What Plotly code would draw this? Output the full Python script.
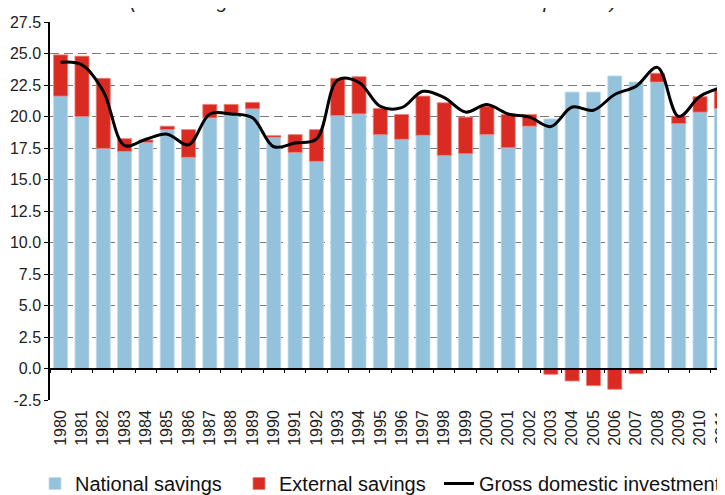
import plotly.graph_objects as go

years = list(range(1980, 2012))
national_savings = [21.62, 20.00, 17.47, 17.23, 17.95, 18.96, 16.76, 19.89, 20.10, 20.61,
                    18.35, 17.15, 16.44, 20.08, 20.21, 18.56, 18.19, 18.51, 16.91, 17.05,
                    18.57, 17.53, 19.23, 19.81, 21.94, 21.94, 23.22, 22.74, 22.74, 19.44,
                    20.35, 20.64]
external_savings = [3.27, 4.79, 5.56, 1.01, 0.19, 0.27, 2.20, 1.07, 0.86, 0.51,
                    0.13, 1.41, 2.52, 2.95, 2.95, 2.08, 1.97, 3.11, 4.18, 2.90,
                    2.25, 2.63, 0.93, -0.46, -0.99, -1.36, -1.65, -0.41, 0.69, 0.59,
                    1.22, 1.43]
gross_investment = [24.3, 24.1, 22.0, 17.7, 18.2, 18.6, 17.75, 20.2, 20.2, 19.9,
                    17.6, 17.9, 18.2, 22.9, 22.7, 20.8, 20.7, 22.0, 21.5, 20.35,
                    20.95, 20.2, 19.95, 19.2, 20.75, 20.5, 21.75, 22.4, 23.9, 20.0,
                    21.6, 22.3]
y_ticks = [-2.5 + 2.5 * i for i in range(13)]
title_text = "(Percentage of the Gross Domestic Product in percent)"

BLUE = "#94c2dd"
RED = "#d92b21"
FONT = "Liberation Sans, Arial, sans-serif"

W, H = 725, 495
ML, MR, MT, MB = 42, 1, 14, 103
PW, PH = W - ML - MR, H - MT - MB
x_range = [years[0] - 0.5, years[-1] + 0.5]

fig = go.Figure()
fig.add_trace(go.Bar(
    x=years, y=national_savings, name="National savings", legend="legend",
    marker=dict(color=BLUE, line=dict(color="#c4dcea", width=0.8)),
))
fig.add_trace(go.Bar(
    x=years, y=external_savings, name="External savings", legend="legend2",
    marker=dict(color=RED, line=dict(color="#e8817b", width=0.8)),
))
fig.add_trace(go.Scatter(
    x=years, y=gross_investment, name="Gross domestic investment", legend="legend3",
    mode="lines", line=dict(color="black", width=3, shape="spline", smoothing=1.0),
    xaxis="x2", yaxis="y",
))

def legend_at(px):
    return dict(
        orientation="h", xref="container", x=px / W, xanchor="left",
        yref="container", y=1 - 456 / H, yanchor="top",
        font=dict(family=FONT, size=20, color="#111"),
        itemwidth=30, bgcolor="rgba(0,0,0,0)",
    )

fig.update_layout(
    width=W, height=H,
    margin=dict(l=ML, r=MR, t=MT, b=MB, autoexpand=False),
    paper_bgcolor="white", plot_bgcolor="white",
    barmode="relative", bargap=0.34,
    font=dict(family=FONT, size=16, color="#222"),
    showlegend=True,
    legend=legend_at(27),
    legend2=legend_at(231),
    legend3=legend_at(431),
    xaxis=dict(
        range=x_range, tickmode="linear", tick0=1980, dtick=1,
        tickangle=-90, ticks="", showline=False, showgrid=False, zeroline=False,
        tickfont=dict(family=FONT, size=16, color="#222"),
        ticklabelstandoff=6, automargin=False,
    ),
    xaxis2=dict(
        range=x_range, overlaying="x", anchor="free", position=2.5 / 30,
        tickmode="linear", tick0=years[0] - 0.5, dtick=1, ticks="outside", ticklen=4,
        tickcolor="black", tickwidth=1.2, showticklabels=False,
        showline=True, linecolor="black", linewidth=1.5,
        showgrid=False, zeroline=False, automargin=False,
    ),
    yaxis=dict(
        range=[-2.5, 27.5], tickmode="array", tickvals=y_ticks,
        ticktext=[f"{v:.1f}" for v in y_ticks],
        showgrid=True, gridcolor="#7a7a7a", gridwidth=1.2, griddash="9px,5px",
        zeroline=False, showline=True, linecolor="black", linewidth=1.5,
        ticks="outside", ticklen=4, tickcolor="black",
        tickfont=dict(family=FONT, size=16, color="#222"), automargin=False,
    ),
    annotations=[dict(
        text=f"<i>{title_text}</i>", xref="paper", yref="paper",
        x=(120 - ML) / PW, xanchor="left", y=1 + (MT - 6) / PH, yanchor="bottom",
        showarrow=False, font=dict(family=FONT, size=20, color="#222"),
    )],
)

fig.write_html("out.html")
